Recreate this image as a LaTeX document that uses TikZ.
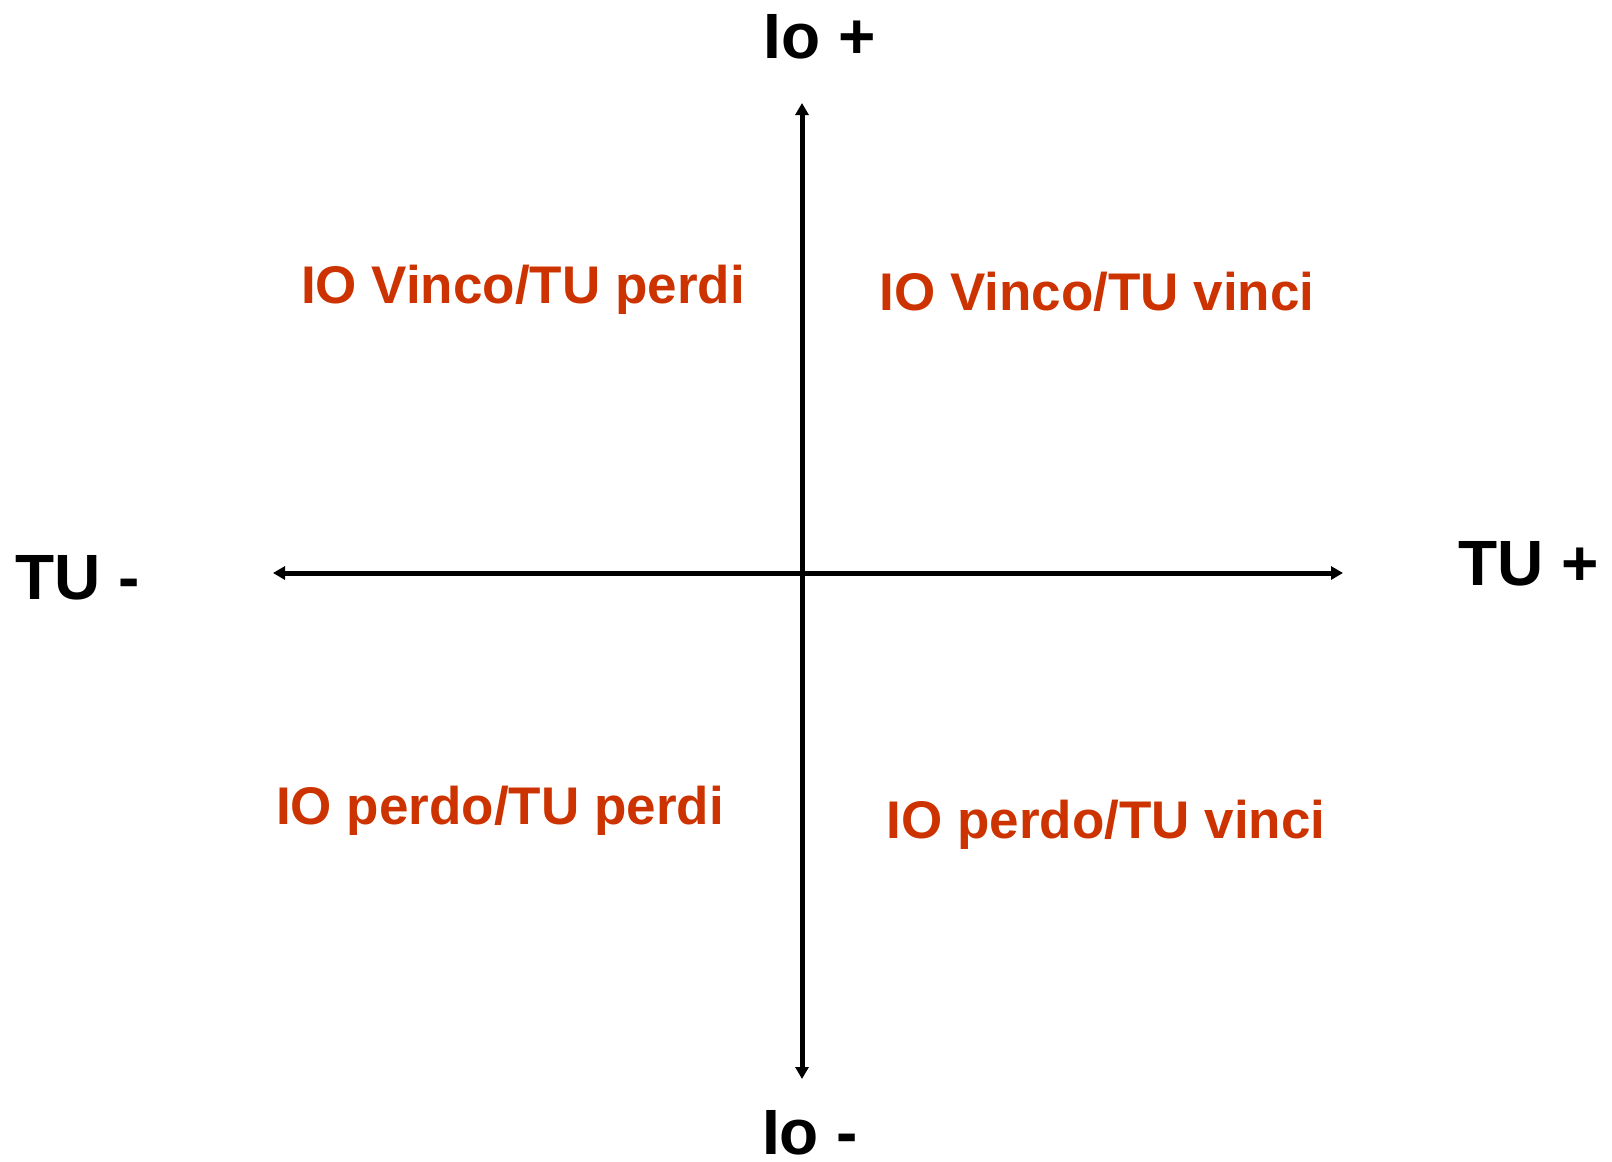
\documentclass[tikz,border=0pt]{standalone}
\usepackage{fontspec}
\setmainfont{Liberation Sans}
\usetikzlibrary{arrows.meta}
\definecolor{quadred}{HTML}{CC3300}
\begin{document}
\begin{tikzpicture}[x=0.5pt,y=-0.5pt,
  axislabel/.style={anchor=base,inner sep=0pt,font=\fontsize{32}{38}\selectfont\bfseries,text=black},
  quadlabel/.style={anchor=base,inner sep=0pt,font=\fontsize{26.5}{32}\selectfont\bfseries,text=quadred},
  axisline/.style={line width=2.5pt,{Triangle[length=6pt,width=6.5pt]}-{Triangle[length=6pt,width=6.5pt]}}]
\useasboundingbox (0,0) rectangle (1612,1162);
\coordinate (top) at (802,103);
\coordinate (bottom) at (802,1079);
\coordinate (left) at (273,573);
\coordinate (right) at (1343,573);
\draw[axisline] (bottom) -- (top);
\draw[axisline] (left) -- (right);
\node[axislabel] (ioplus) at (820,58) {Io +};
\node[axislabel,text depth=0pt] (iominus) at (810,1154) {Io -};
\node[axislabel] (tuminus) at (78,599) {TU -};
\node[axislabel] (tuplus) at (1529,585) {TU +};
\node[quadlabel] (q1) at (523,303) {IO Vinco/TU perdi};
\node[quadlabel] (q2) at (1097,310) {IO Vinco/TU vinci};
\node[quadlabel] (q3) at (500,824) {IO perdo/TU perdi};
\node[quadlabel] (q4) at (1106,838) {IO perdo/TU vinci};
\end{tikzpicture}
\end{document}
